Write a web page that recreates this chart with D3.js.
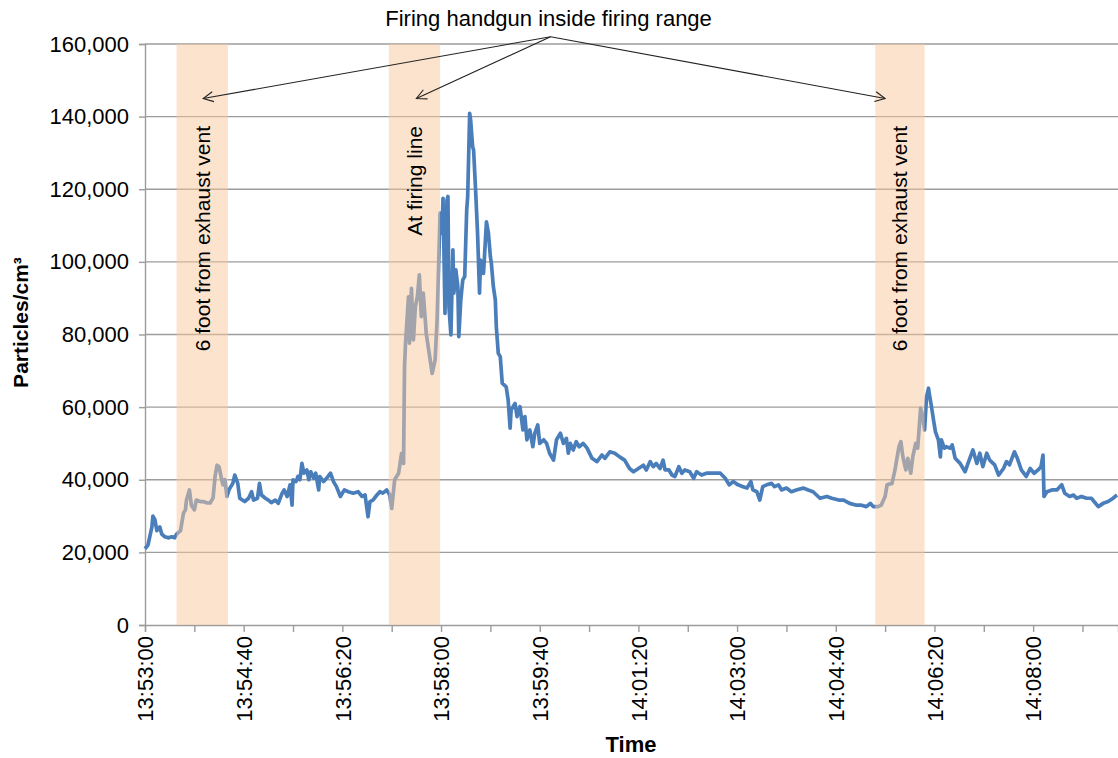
<!DOCTYPE html>
<html>
<head>
<meta charset="utf-8">
<script src="https://cdn.jsdelivr.net/npm/d3@7"></script>
<style>
    body { margin: 0; background: #fff; }
    text { font-family: Arial, "Liberation Sans", sans-serif; fill: #000; }
</style>
</head>
<body>
<div id="chart"></div>
<script>
// time axis starts here, data given as seconds after start
const startTime = "13:53:00"
const endSecs = 986

const secs = [0, 3, 7, 8, 10, 12, 14, 15, 17, 20, 24, 27, 30, 32, 36, 39, 41, 42, 45, 47, 50, 52, 56, 59, 63, 66, 69, 71, 73, 75, 77, 79, 81, 83, 85, 89, 91, 94, 96, 101, 105, 108, 110, 114, 116, 118, 122, 125, 128, 132, 135, 139, 141, 144, 147, 149, 150, 153, 155, 157, 159, 161, 164, 166, 168, 171, 173, 176, 177, 181, 184, 188, 191, 194, 198, 202, 206, 211, 216, 220, 223, 226, 228, 231, 235, 238, 241, 245, 248, 250, 253, 257, 260, 262, 263, 264, 267, 268, 270, 272, 274, 276, 278, 280, 282, 285, 288, 291, 294, 296, 299, 301, 302, 304, 306, 307, 308, 310, 312, 313, 315, 317, 318, 320, 322, 324, 326, 327, 329, 330, 332, 333, 335, 337, 339, 340, 343, 344, 346, 348, 350, 351, 353, 355, 356, 358, 360, 362, 366, 368, 370, 371, 375, 377, 380, 383, 385, 387, 390, 393, 395, 398, 400, 404, 407, 410, 414, 417, 421, 424, 427, 429, 431, 434, 437, 440, 444, 448, 453, 458, 463, 466, 471, 476, 481, 486, 491, 495, 500, 505, 508, 512, 515, 518, 522, 525, 527, 531, 534, 537, 541, 544, 547, 552, 556, 559, 564, 569, 576, 583, 588, 592, 596, 601, 606, 610, 614, 616, 620, 623, 626, 630, 635, 638, 642, 645, 650, 655, 660, 667, 672, 677, 684, 691, 696, 703, 708, 714, 721, 726, 731, 735, 738, 743, 746, 750, 752, 757, 760, 764, 766, 768, 771, 773, 776, 778, 781, 783, 786, 788, 790, 792, 794, 795, 797, 799, 801, 804, 806, 807, 810, 812, 816, 818, 821, 826, 831, 834, 839, 843, 846, 849, 853, 856, 861, 865, 870, 873, 876, 881, 884, 888, 893, 897, 901, 905, 908, 910, 911, 914, 919, 924, 929, 932, 937, 941, 944, 949, 954, 959, 966, 971, 976, 981, 985]

const particles = [21000, 22000, 27000, 30000, 29000, 26000, 26700, 27000, 25000, 24300, 24000, 24300, 24000, 25000, 26000, 30800, 31700, 34400, 37200, 33000, 31700, 34400, 34000, 34000, 33600, 33600, 35000, 40900, 44000, 43600, 40900, 38600, 40000, 35400, 37200, 39000, 41300, 39000, 34900, 34000, 34900, 36700, 34400, 34900, 39000, 35800, 34900, 34400, 33700, 34400, 33500, 36300, 37200, 35400, 38600, 33000, 40000, 39500, 40900, 40000, 44500, 41800, 42700, 40000, 42200, 40400, 41800, 37200, 40900, 39500, 40400, 41800, 39500, 38100, 35400, 37200, 36700, 36300, 36700, 35400, 35800, 29800, 34000, 34400, 35800, 36700, 36300, 37200, 35800, 32100, 40000, 41800, 47300, 44500, 71200, 77600, 90400, 77600, 92700, 78500, 87700, 90400, 96400, 84900, 91400, 80300, 74800, 69300, 73000, 84000, 113400, 107900, 117500, 85800, 117000, 118000, 87700, 79900, 103300, 91400, 97800, 93200, 79400, 89500, 95000, 96000, 114300, 118000, 140900, 139000, 131700, 130800, 119800, 107900, 91400, 100500, 96800, 101400, 111000, 107900, 101400, 99600, 93200, 89500, 82200, 74800, 73900, 66600, 65600, 62000, 54200, 59200, 61000, 57400, 60100, 53700, 57400, 51000, 53700, 49100, 52800, 55100, 50000, 51000, 50000, 47300, 45400, 51000, 52800, 50000, 51400, 47300, 50000, 48200, 50500, 49100, 50000, 48700, 45900, 45000, 46800, 45900, 47700, 47300, 46300, 45400, 43100, 42200, 43100, 44000, 42700, 45000, 43600, 44500, 43100, 45400, 42700, 42700, 41300, 40900, 43600, 41800, 42700, 42200, 40400, 42200, 41300, 41800, 41800, 41800, 40400, 38600, 39500, 38600, 38100, 37700, 39500, 37200, 36700, 34400, 38100, 38600, 39000, 38100, 38600, 37200, 37700, 36700, 37200, 37700, 37200, 36700, 34900, 35400, 34900, 34400, 34400, 33500, 33000, 33000, 32600, 33500, 32600, 32600, 33000, 35400, 38600, 39000, 42700, 49100, 50500, 46300, 42700, 45900, 41800, 46300, 50000, 48700, 59700, 57400, 53700, 62900, 65200, 63300, 60100, 56500, 53200, 51000, 46300, 51000, 48700, 49100, 48700, 49600, 45900, 44500, 42200, 44500, 48200, 44500, 47300, 43600, 47300, 45400, 44100, 41300, 43100, 45000, 44100, 47700, 45900, 42700, 40900, 43100, 41800, 42700, 43600, 46800, 35400, 36700, 37200, 37200, 38600, 36300, 35400, 35800, 34900, 35400, 34900, 34900, 32600, 33500, 34000, 34900, 35800]

const xTickLabels = ["13:53:00", "13:54:40", "13:56:20", "13:58:00", "13:59:40", "14:01:20", "14:03:00", "14:04:40", "14:06:20", "14:08:00"]
const yTickValues = [0, 20000, 40000, 60000, 80000, 100000, 120000, 140000, 160000]

// shaded periods (seconds after start)
const bandStart = [32, 247, 740]
const bandEnd = [84, 299, 790]
const bandLabels = ["6 foot from exhaust vent", "At firing line", "6 foot from exhaust vent"]

const calloutText = "Firing handgun inside firing range"
const calloutFrom = [411, 162000]
const calloutTo = [[59, 145000], [275, 145000], [750, 145000]]

var margin = { top: 44, right: 0, bottom: 133, left: 145 },
    width = 1118 - margin.left - margin.right,
    height = 758 - margin.top - margin.bottom;

function toSecs(s) {
    let p = s.split(":").map(Number)
    return p[0] * 3600 + p[1] * 60 + p[2]
}

let data = secs.map((s, i) => ({ t: s, v: particles[i] }))

let xScale = d3.scaleLinear()
    .domain([0, endSecs])
    .range([0, width])

let yScale = d3.scaleLinear()
    .domain([0, 160000])
    .range([height, 0])

let svg = d3.select("#chart")
    .append("svg")
    .attr("width", width + margin.left + margin.right)
    .attr("height", height + margin.top + margin.bottom)
    .append("g")
    .attr("transform", "translate(" + margin.left + "," + margin.top + ")");

// gridlines
svg.append("g")
    .selectAll("line")
    .data(yTickValues.filter(d => d > 0))
    .enter()
    .append("line")
    .attr("x1", 0)
    .attr("x2", width)
    .attr("y1", d => yScale(d))
    .attr("y2", d => yScale(d))
    .style("stroke", "#9c9c9c")
    .style("stroke-width", 1.4)

// y axis
let yAxis = svg.append("g")
    .call(d3.axisLeft(yScale).tickValues(yTickValues).tickSize(6).tickPadding(10).tickFormat(d3.format(",")))
yAxis.selectAll("text").style("font-size", "22px").attr("font-family", null)
yAxis.selectAll("line, path").style("stroke", "#9c9c9c").style("stroke-width", 1.4)

// x axis, a tick every 50 s and a label every 100 s
let labelAt = {}
xTickLabels.forEach(l => { labelAt[toSecs(l) - toSecs(startTime)] = l })
let xAxis = svg.append("g")
    .attr("transform", "translate(0," + height + ")")
    .call(d3.axisBottom(xScale)
        .tickValues(d3.range(0, endSecs, 50))
        .tickSize(7)
        .tickFormat(d => labelAt[d] || ""))
xAxis.selectAll("line, path").style("stroke", "#9c9c9c").style("stroke-width", 1.4)
xAxis.selectAll("text")
    .style("font-size", "22px")
    .attr("font-family", null)
    .attr("text-anchor", "end")
    .attr("transform", "rotate(-90)")
    .attr("x", -11)
    .attr("y", 0)
    .attr("dy", "0.35em")

// the series
svg.append("path")
    .datum(data)
    .attr("d", d3.line().x(d => xScale(d.t)).y(d => yScale(d.v)))
    .style("fill", "none")
    .style("stroke", "#4a7ebb")
    .style("stroke-width", 3.7)
    .style("stroke-linejoin", "round")

// translucent bands over the line
svg.append("g")
    .selectAll("rect")
    .data(bandStart)
    .enter()
    .append("rect")
    .attr("x", d => xScale(d))
    .attr("width", (d, i) => xScale(bandEnd[i]) - xScale(d))
    .attr("y", 0)
    .attr("height", height)
    .style("fill", "rgb(249,199,155)")
    .style("opacity", 0.5)

svg.append("g")
    .selectAll("text")
    .data(bandLabels)
    .enter()
    .append("text")
    .attr("transform", (d, i) => "translate(" + xScale((bandStart[i] + bandEnd[i]) / 2) + ",82) rotate(-90)")
    .attr("text-anchor", "end")
    .attr("dy", "0.35em")
    .style("font-size", "21px")
    .text(d => d)

// callout arrows
d3.select("svg").append("defs")
    .append("marker")
    .attr("id", "arrow")
    .attr("viewBox", "0 0 12 12")
    .attr("refX", 11)
    .attr("refY", 6)
    .attr("markerWidth", 12)
    .attr("markerHeight", 12)
    .attr("markerUnits", "userSpaceOnUse")
    .attr("orient", "auto")
    .append("path")
    .attr("d", "M1,1 L11,6 L1,11")
    .style("fill", "none")
    .style("stroke", "#222")
    .style("stroke-width", 1.1)

svg.append("g")
    .selectAll("line")
    .data(calloutTo)
    .enter()
    .append("line")
    .attr("x1", xScale(calloutFrom[0]))
    .attr("y1", yScale(calloutFrom[1]))
    .attr("x2", d => xScale(d[0]))
    .attr("y2", d => yScale(d[1]))
    .attr("marker-end", "url(#arrow)")
    .style("stroke", "#222")
    .style("stroke-width", 1.1)

svg.append("text")
    .attr("x", xScale(calloutFrom[0]) - 2)
    .attr("y", yScale(calloutFrom[1]) - 11)
    .attr("text-anchor", "middle")
    .style("font-size", "22px")
    .text(calloutText)

// axis titles
svg.append("text")
    .attr("transform", "translate(" + (-124) + "," + (height / 2 - 12) + ") rotate(-90)")
    .attr("text-anchor", "middle")
    .attr("dy", "0.35em")
    .style("font-size", "21px")
    .style("font-weight", "bold")
    .text("Particles/cm³")

svg.append("text")
    .attr("x", 486)
    .attr("y", height + 127)
    .attr("text-anchor", "middle")
    .style("font-size", "22px")
    .style("font-weight", "bold")
    .text("Time")
</script>
</body>
</html>
